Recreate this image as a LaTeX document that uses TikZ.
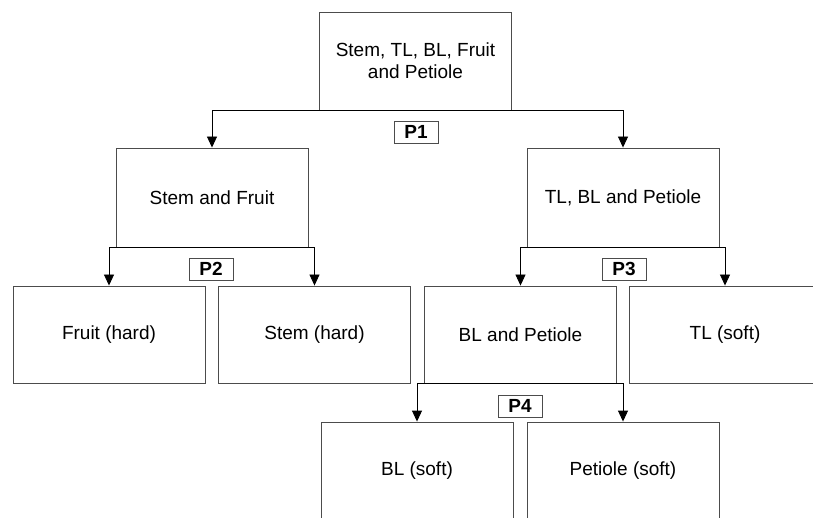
\documentclass[tikz,border=0pt]{standalone}
\usepackage{fontspec}
\setmainfont{Liberation Sans}
\usetikzlibrary{arrows.meta}
\begin{document}
\begin{tikzpicture}[x=1pt,y=-1pt,
  box/.style={draw=black!70, line width=0.9pt, fill=white, minimum width=192pt, minimum height=98pt, inner sep=0pt, align=center, font=\fontsize{19}{22}\selectfont},
  conn/.style={draw=black, line width=0.9pt, -{Triangle[length=11pt,width=10pt]}},
  plabel/.style={draw=black!70, line width=0.9pt, minimum width=44pt, minimum height=22pt, inner sep=0pt, font=\fontsize{19}{20}\selectfont\bfseries}]
\useasboundingbox (0,0) rectangle (813,518);
\fill[white] (0,0) rectangle (813,518);
\begin{scope}
\clip (0,0) rectangle (813,518);
\node[box] (top) at (415.5,61) {Stem, TL, BL, Fruit\\and Petiole};
\node[box, minimum height=99pt] (sf) at (212,197.5) {Stem and Fruit};
\node[box, minimum height=99pt] (tbp) at (623,197.5) {TL, BL and Petiole};
\node[box, minimum height=97pt] (fruit) at (109,334.5) {Fruit (hard)};
\node[box, minimum height=97pt] (stem) at (314.5,334.5) {Stem (hard)};
\node[box, minimum height=97pt] (blp) at (520.5,334.5) {BL and Petiole};
\node[box, minimum height=97pt] (tls) at (725,334.5) {TL (soft)};
\node[box] (bls) at (417,471) {BL (soft)};
\node[box] (ps) at (623,471) {Petiole (soft)};
\draw[conn] (top.south) -| (sf.north);
\draw[conn] (top.south) -| (tbp.north);
\draw[conn] (sf.south) -| (fruit.north);
\draw[conn] (sf.south) -| (stem.north);
\draw[conn] (tbp.south) -| (blp.north);
\draw[conn] (tbp.south) -| (tls.north);
\draw[conn] (blp.south) -| (bls.north);
\draw[conn] (blp.south) -| (ps.north);
\node[plabel] (p1) at (416,132) {P1};
\node[plabel] (p2) at (211,269) {P2};
\node[plabel] (p3) at (624,269) {P3};
\node[plabel] (p4) at (520,406) {P4};
\end{scope}
\end{tikzpicture}
\end{document}
